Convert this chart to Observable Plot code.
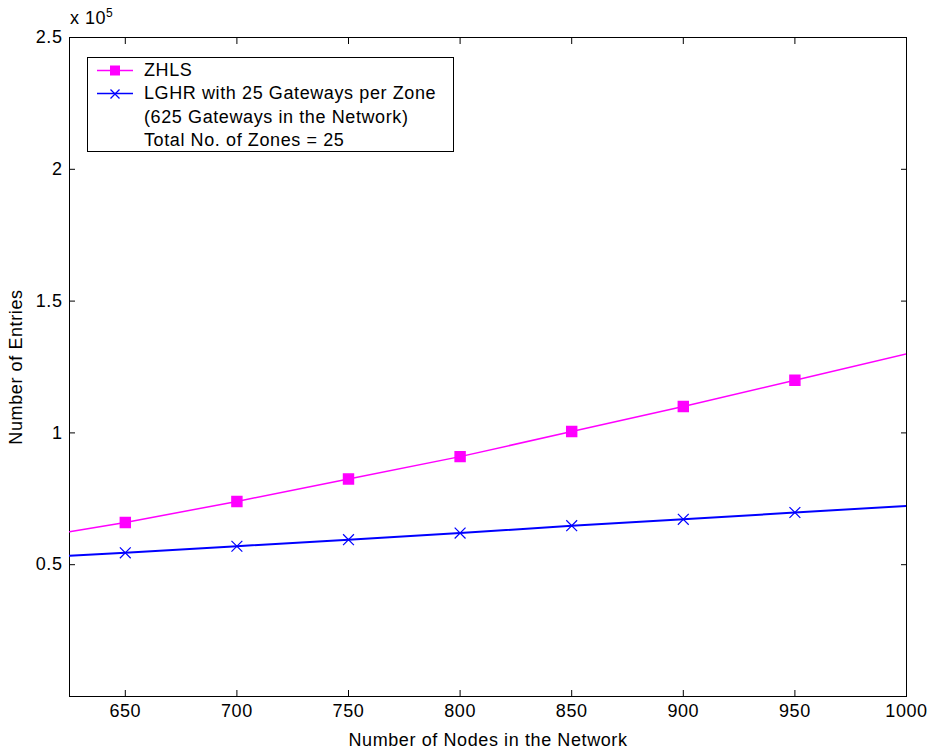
<!DOCTYPE html>
<html>
<head>
<meta charset="utf-8">
<script src="https://cdn.jsdelivr.net/npm/d3@7"></script>
<script src="https://cdn.jsdelivr.net/npm/@observablehq/plot@0.6"></script>
<style>
  body { margin: 0; background: #fff; }
  #wrap { position: relative; width: 930px; height: 749px; font-family: "Liberation Sans", Arial, sans-serif; }
  #exp { position: absolute; left: 70px; top: 6px; font-size: 18px; letter-spacing: 0.5px; color: #000; }
  #exp sup { font-size: 12px; }
  #legend { position: absolute; left: 87px; top: 57px; width: 365px; height: 93px; border: 1px solid #000; background: #fff; font-size: 18px; letter-spacing: 0.6px; }
  .row { position: absolute; left: 0; height: 23px; line-height: 23px; }
  .row svg { position: absolute; left: 9px; top: 0; }
  .row span { position: absolute; left: 56px; white-space: nowrap; }
  #chart svg text { letter-spacing: 0.6px; }
</style>
</head>
<body>
<div id="wrap">
  <div id="chart"></div>
  <div id="exp">x 10<sup>5</sup></div>
  <div id="legend"></div>
</div>
<script>
// Data
const nodes = [625, 650, 700, 750, 800, 850, 900, 950, 1000];
const zhls  = [62500, 66000, 74000, 82500, 91000, 100500, 110000, 120000, 130000];
const lghr  = [53400, 54500, 57000, 59500, 62000, 64800, 67200, 69800, 72300];
const markerNodes = [650, 700, 750, 800, 850, 900, 950];
const xTicks = [650, 700, 750, 800, 850, 900, 950, 1000];
const yTicks = [50000, 100000, 150000, 200000, 250000];
const seriesNames = ["ZHLS", "LGHR with 25 Gateways per Zone"];
const legendExtra = ["(625 Gateways in the Network)", "Total No. of Zones = 25"];
const colors = ["#ff00ff", "#0000ff"];

const zData = nodes.map((n, i) => ({n, v: zhls[i]}));
const lData = nodes.map((n, i) => ({n, v: lghr[i]}));
const isMarker = d => markerNodes.includes(d.n);

const fmtY = v => String(v / 1e5);

const chart = Plot.plot({
  width: 930,
  height: 749,
  marginLeft: 69,
  marginRight: 24,
  marginTop: 37,
  marginBottom: 53,
  style: { fontFamily: "'Liberation Sans', Arial, sans-serif", fontSize: "18px", color: "#000", background: "#fff" },
  x: { domain: [625, 1000] },
  y: { domain: [0, 250000] },
  marks: [
    Plot.frame({ stroke: "#000", strokeWidth: 1 }),
    Plot.axisX({ anchor: "bottom", ticks: xTicks, tickSize: -6, tickPadding: 14, tickFormat: d => String(d),
      label: "Number of Nodes in the Network", labelAnchor: "center", labelArrow: "none", labelOffset: 49 }),
    Plot.axisX({ anchor: "top", ticks: xTicks, tickSize: -6, tickFormat: () => "", label: null }),
    Plot.axisY({ anchor: "left", ticks: yTicks, tickSize: -6, tickPadding: 13, tickFormat: fmtY,
      label: "Number of Entries", labelAnchor: "center", labelArrow: "none", labelOffset: 60 }),
    Plot.axisY({ anchor: "right", ticks: yTicks, tickSize: -6, tickFormat: () => "", label: null }),
    Plot.line(zData, { x: "n", y: "v", stroke: colors[0], strokeWidth: 1.5, clip: true }),
    Plot.line(lData, { x: "n", y: "v", stroke: colors[1], strokeWidth: 2, clip: true }),
    Plot.dot(zData.filter(isMarker), { x: "n", y: "v", symbol: "square", r: 5.6, fill: colors[0], stroke: colors[0] }),
    Plot.dot(lData.filter(isMarker), { x: "n", y: "v", symbol: "times", r: 5, stroke: colors[1], strokeWidth: 1.2 })
  ]
});
document.getElementById("chart").appendChild(chart);

// Legend
const legend = document.getElementById("legend");
const rows = [
  { text: seriesNames[0], sym: "square", color: colors[0] },
  { text: seriesNames[1], sym: "times", color: colors[1] },
  { text: legendExtra[0] },
  { text: legendExtra[1] }
];
rows.forEach((r, i) => {
  const div = document.createElement("div");
  div.className = "row";
  div.style.top = (1 + i * 23.3) + "px";
  let svg = "";
  if (r.sym) {
    const mark = r.sym === "square"
      ? `<rect x="13" y="6.5" width="10" height="10" fill="${r.color}"/>`
      : `<path d="M13.5,7.5 L22.5,16.5 M22.5,7.5 L13.5,16.5" stroke="${r.color}" stroke-width="1.3"/>`;
    svg = `<svg width="38" height="23"><line x1="0" x2="36" y1="11.5" y2="11.5" stroke="${r.color}" stroke-width="1.5"/>${mark}</svg>`;
  }
  div.innerHTML = svg + `<span>${r.text}</span>`;
  legend.appendChild(div);
});
</script>
</body>
</html>
